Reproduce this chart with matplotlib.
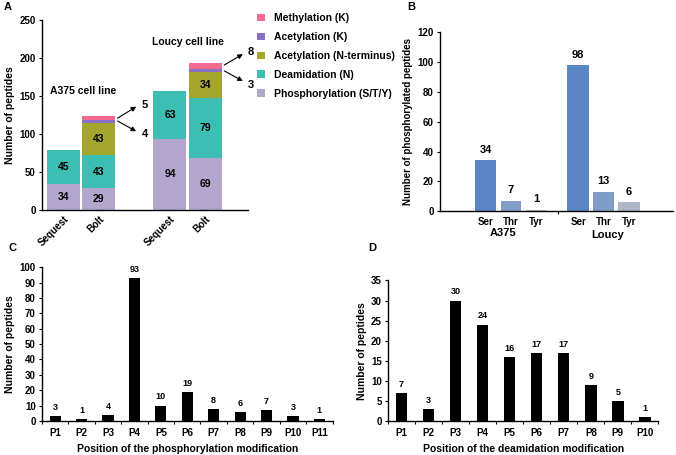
import numpy as np
import matplotlib
matplotlib.use("Agg")
import matplotlib.pyplot as plt

plt.rcParams['font.family'] = ['Liberation Sans', 'DejaVu Sans']
plt.rcParams['font.weight'] = 'bold'
plt.rcParams['axes.labelweight'] = 'bold'

# ---- Panel A data ----
a_bars = ['Sequest', 'Bolt', 'Sequest', 'Bolt']
a_mods = ['Phosphorylation (S/T/Y)', 'Deamidation (N)', 'Acetylation (N-terminus)',
          'Acetylation (K)', 'Methylation (K)']
a_phospho = [34, 29, 94, 69]
a_deamid = [45, 43, 63, 79]
a_acet_n = [0, 43, 0, 34]
a_acet_k = [0, 4, 0, 3]
a_methyl = [0, 5, 0, 8]
a_colors = ['#b2a6cd', '#3cbfb2', '#a4a62e', '#8a6fc9', '#f56b90']

# ---- Panel B data ----
b_sites = ['Ser', 'Thr', 'Tyr']
b_a375 = [34, 7, 1]
b_loucy = [98, 13, 6]
b_colors = ['#5b86c6', '#7f9dc7', '#adb7c6']

# ---- Panel C data ----
c_pos = ['P1', 'P2', 'P3', 'P4', 'P5', 'P6', 'P7', 'P8', 'P9', 'P10', 'P11']
c_vals = [3, 1, 4, 93, 10, 19, 8, 6, 7, 3, 1]

# ---- Panel D data ----
d_pos = ['P1', 'P2', 'P3', 'P4', 'P5', 'P6', 'P7', 'P8', 'P9', 'P10']
d_vals = [7, 3, 30, 24, 16, 17, 17, 9, 5, 1]

fig = plt.figure(figsize=(6.76, 4.55), dpi=100)


def style(ax):
    ax.spines['top'].set_visible(False)
    ax.spines['right'].set_visible(False)
    ax.tick_params(axis='both', labelsize=7, width=0.8, length=2.5, pad=2)
    for s in ('left', 'bottom'):
        ax.spines[s].set_linewidth(1.0)


# ================= A =================
axA = fig.add_axes([0.062, 0.538, 0.305, 0.418])
xa = [0.6, 1.6, 3.6, 4.6]
stack = [a_phospho, a_deamid, a_acet_n, a_acet_k, a_methyl]
bottom = np.zeros(4)
bars_a = []
for vals, col, lab in zip(stack, a_colors, a_mods):
    b = axA.bar(xa, vals, width=0.93, bottom=bottom, color=col, label=lab)
    bars_a.append(b)
    for x, v, b0 in zip(xa, vals, bottom):
        if v >= 20:
            axA.text(x, b0 + v / 2, str(v), ha='center', va='center', fontsize=7.5)
    bottom += np.array(vals)
axA.set_xlim(0, 5.8)
axA.set_ylim(0, 250)
axA.set_yticks(range(0, 251, 50))
axA.set_xticks(xa)
axA.set_xticklabels(a_bars, rotation=45, ha='right', rotation_mode='anchor', fontsize=7.5)
style(axA)
axA.tick_params(axis='x', length=0, pad=3)
axA.set_ylabel('Number of peptides', fontsize=7.5, labelpad=3)
axA.text(0.23, 157, 'A375 cell line', fontsize=7.5, va='center')
axA.text(3.1, 221, 'Loucy cell line', fontsize=7.5, va='center')

arrow = dict(arrowstyle='-|>', color='black', lw=0.8, mutation_scale=7)
x_edge = xa[1] + 0.46
top_b = a_phospho[1] + a_deamid[1] + a_acet_n[1] + a_acet_k[1]
axA.annotate('', xy=(2.72, 138), xytext=(x_edge, top_b), arrowprops=arrow, annotation_clip=False)
axA.annotate('', xy=(2.72, 102), xytext=(x_edge, top_b), arrowprops=arrow, annotation_clip=False)
axA.text(2.8, 138, str(a_methyl[1]), va='center', fontsize=8)
axA.text(2.8, 100, str(a_acet_k[1]), va='center', fontsize=8)
x_edge = xa[3] + 0.46
top_b = a_phospho[3] + a_deamid[3] + a_acet_n[3] + a_acet_k[3]
axA.annotate('', xy=(5.72, 207), xytext=(x_edge, top_b + 4), arrowprops=arrow, annotation_clip=False)
axA.annotate('', xy=(5.72, 168), xytext=(x_edge, top_b), arrowprops=arrow, annotation_clip=False)
axA.text(5.8, 208, str(a_methyl[3]), va='center', fontsize=8)
axA.text(5.8, 165, str(a_acet_k[3]), va='center', fontsize=8)

handles = [bars_a[i][0] for i in range(4, -1, -1)]
labels = [a_mods[i] for i in range(4, -1, -1)]
fig.legend(handles, labels, loc='upper left', bbox_to_anchor=(0.374, 0.98), frameon=False,
           fontsize=7.5, handlelength=0.75, handleheight=0.75, labelspacing=0.85,
           handletextpad=0.9, borderaxespad=0)

# ================= B =================
axB = fig.add_axes([0.651, 0.536, 0.345, 0.393])
xb_a = [1.78, 2.78, 3.78]
xb_l = [5.41, 6.41, 7.41]
axB.bar(xb_a, b_a375, width=0.8, color=b_colors)
axB.bar(xb_l, b_loucy, width=0.85, color=b_colors)
for x, v in zip(xb_a + xb_l, b_a375 + b_loucy):
    axB.annotate(str(v), (x, v), xytext=(0, 4), textcoords='offset points',
                 ha='center', va='bottom', fontsize=8)
axB.set_xlim(0, 9.14)
axB.set_ylim(0, 120)
axB.set_yticks(range(0, 121, 20))
axB.set_xticks(xb_a + xb_l)
axB.set_xticklabels(b_sites + b_sites, fontsize=8)
style(axB)
axB.tick_params(axis='x', length=0, pad=4)
axB.set_xticks([4.61], minor=True)
axB.tick_params(axis='x', which='minor', length=2.5, width=0.8)
axB.text(2.47, -15, 'A375', ha='center', va='center', fontsize=8)
axB.text(6.55, -16, 'Loucy', ha='center', va='center', fontsize=8)
axB.set_ylabel('Number of phosphorylated peptides', fontsize=7, labelpad=3)


def pos_panel(ax, cats, vals, ymax, ystep, xlabel):
    x = np.arange(len(cats))
    ax.bar(x, vals, width=0.42, color='black')
    for xi, v in zip(x, vals):
        ax.annotate(str(v), (xi, v), xytext=(0, 3), textcoords='offset points',
                    ha='center', va='bottom', fontsize=6.5)
    ax.set_xlim(-0.5, len(cats) - 0.5)
    ax.set_ylim(0, ymax)
    ax.set_yticks(np.arange(0, ymax + 1, ystep))
    ax.set_xticks(x)
    ax.set_xticklabels(cats, fontsize=7)
    style(ax)
    ax.tick_params(axis='x', which='major', length=0, pad=5)
    ax.set_xticks(np.arange(-0.5, len(cats)), minor=True)
    ax.tick_params(axis='x', which='minor', length=2.5, width=0.8)
    ax.set_ylabel('Number of peptides', fontsize=7.5, labelpad=3)
    ax.set_xlabel(xlabel, fontsize=7.5, labelpad=4)


# ================= C =================
axC = fig.add_axes([0.062, 0.0747, 0.43, 0.338])
pos_panel(axC, c_pos, c_vals, 100, 10, 'Position of the phosphorylation modification')

# ================= D =================
axD = fig.add_axes([0.574, 0.0747, 0.40, 0.309])
pos_panel(axD, d_pos, d_vals, 35, 5, 'Position of the deamidation modification')

fig.text(0.006, 0.984, 'A', fontsize=8, va='center')
fig.text(0.602, 0.984, 'B', fontsize=8, va='center')
fig.text(0.012, 0.455, 'C', fontsize=8, va='center')
fig.text(0.545, 0.455, 'D', fontsize=8, va='center')

fig.savefig('out.png', dpi=100)
